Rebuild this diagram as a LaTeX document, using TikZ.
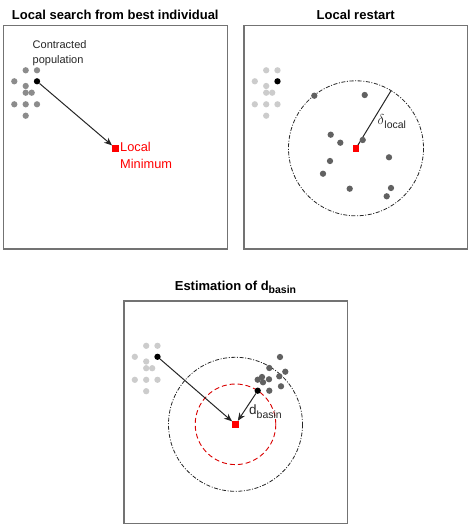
\documentclass[tikz,border=0pt]{standalone}
\usepackage{fontspec}
\setmainfont{Liberation Sans}
\usetikzlibrary{arrows.meta}
\newcommand\mypopul[2]{%
  \foreach \px/\py [count=\i] in {25.7/70.3,37/70.3,14.3/81.3,25.7/86,25.7/92.7,31.7/92.7,14.3/104.3,25.7/104.3,37/104.3,25.7/115.7}
    \node[#2] (#1\i) at (\px,\py) {};
}
\begin{document}
\begin{tikzpicture}[x=1pt,y=-1pt,
  panel/.style={draw=black!55,line width=1.1pt},
  ttl/.style={font=\bfseries\fontsize{13}{15}\selectfont,anchor=base,inner sep=0},
  dotbase/.style={circle,inner sep=0,minimum size=6.3pt},
  dotA/.style={dotbase,fill=black!45},
  dotL/.style={dotbase,fill=black!20},
  dotD/.style={dotbase,fill=black!62},
  best/.style={dotbase,fill=black},
  minsq/.style={fill=red,inner sep=0,minimum size=6.5pt},
  arr/.style={-{Stealth[length=8pt,width=6.5pt]},line width=1pt,black!85},
  dashdot/.style={line width=0.8pt,black!85,dash pattern=on 4pt off 1.6pt on 1pt off 1.6pt},
  reddash/.style={line width=0.9pt,red!85!black,dash pattern=on 5pt off 3pt},
  lbl/.style={inner sep=0,anchor=west}]
\useasboundingbox (0,0) rectangle (471,527);

% ---------- Panel 1 ----------
\node[ttl] (t1) at (115.3,19.3) {Local search from best individual};
\draw[panel] (3.5,25.7) rectangle (227.3,249);
\mypopul{a}{dotA}
\node[best] (b1) at (37,81.3) {};
\node[minsq] (m1) at (115.5,148.3) {};
\draw[arr] (b1) -- (m1);
\node[lbl,align=left,font=\fontsize{11}{14.7}\selectfont,text=black!85] (c1) at (32.5,53.3) {Contracted\\population};
\node[lbl,align=left,font=\fontsize{12.8}{17}\selectfont,text=red] (l1) at (120,155.5) {Local\\Minimum};

% ---------- Panel 2 ----------
\node[ttl] (t2) at (355.7,19.3) {Local restart};
\begin{scope}[shift={(240.5,0)}]
\draw[panel] (3.5,25.7) rectangle (227.3,249);
\mypopul{l}{dotL}
\node[best] (b2) at (37,81.3) {};
\node[minsq] (m2) at (115.5,148.3) {};
\draw[dashdot] (m2.center) circle[radius=67.5];
\coordinate (e2) at (150.6,90.6);
\draw[line width=1pt,black!85] (m2.center) -- (e2);
\foreach \px/\py [count=\i] in {73.8/95.7,124.2/95,90.2/134.7,99.8/142.7,122.2/140,89.5/161,148.5/157.3,82.5/173.7,109.2/188.7,150.5/188,146.2/196.3}
  \node[dotD] (r\i) at (\px,\py) {};
\node[minsq] (m2b) at (115.5,148.3) {};
\node[lbl,text=black!85] (dl) at (137,121.5) {\fontsize{15}{17}\selectfont$\delta$\raisebox{-0.5ex}{\fontsize{10.5}{12}\selectfont local}};
\end{scope}

% ---------- Panel 3 ----------
\node[ttl] (t3) at (235.5,290) {Estimation of d\raisebox{-0.55ex}{\fontsize{10.5}{12}\selectfont basin}};
\begin{scope}[shift={(120.5,275.5)}]
\draw[panel] (3.5,25.5) rectangle (227,248.2);
\mypopul{k}{dotL}
\node[best] (b3) at (37,81.3) {};
\coordinate (c3) at (115,148.8);
\draw[dashdot] (c3) circle[radius=67];
\draw[reddash] (c3) circle[radius=40.3];
\foreach \px/\py [count=\i] in {159.5/81.5,148.8/92.5,164.8/96.2,158.8/100.8,141.5/101.5,137.2/104.2,148.5/103.8,142.5/106.8,160.5/110.8,148.8/115.2}
  \node[dotD] (s\i) at (\px,\py) {};
\node[best] (g3) at (137.2,115.2) {};
\node[minsq] (m3) at (c3) {};
\draw[arr] (b3) -- (m3);
\draw[arr] (g3) -- (m3);
\node[lbl,text=black!85] (db) at (128.5,136) {\fontsize{13.5}{15}\selectfont d\raisebox{-0.6ex}{\fontsize{10.5}{12}\selectfont basin}};
\end{scope}
\end{tikzpicture}
\end{document}
